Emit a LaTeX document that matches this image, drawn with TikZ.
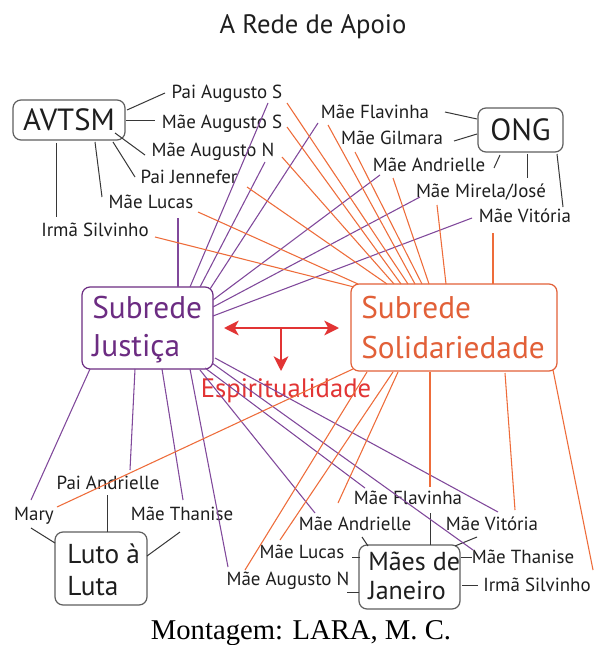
\documentclass[tikz,border=0pt]{standalone}
\usepackage{fontspec}
\setmainfont{PT Sans}
\newfontfamily\seriffam{Liberation Serif}
\usetikzlibrary{arrows.meta}
\definecolor{justxt}{RGB}{108,44,130}
\definecolor{jusline}{RGB}{128,72,155}
\definecolor{soltxt}{RGB}{226,96,56}
\definecolor{solline}{RGB}{238,108,58}
\definecolor{espred}{RGB}{226,52,52}
\definecolor{txt}{RGB}{30,30,30}
\definecolor{boxline}{RGB}{95,95,95}
\definecolor{conline}{RGB}{55,55,55}
\begin{document}
\begin{tikzpicture}[x=0.75pt,y=-0.75pt,
  lbl/.style={font=\fontsize{14.2}{16}\selectfont, text=txt, inner sep=0pt, anchor=base},
  boxshape/.style={draw=boxline, line width=0.9pt, rounded corners=6pt, inner sep=0pt},
  bigtxt/.style={inner sep=0pt, anchor=base west},
  gl/.style={draw=conline, line width=0.75pt},
  pl/.style={draw=jusline, line width=0.8pt},
  ol/.style={draw=solline, line width=0.8pt},
  redarr/.style={draw=espred, line width=1.6pt},
  redtip/.tip={Stealth[length=11pt,width=11pt,inset=3pt]}]
\useasboundingbox (0,0) rectangle (598,645);
\fill[white] (0,0) rectangle (598,645);

% title and credit
\node[inner sep=0pt, anchor=base, text=txt, font=\fontsize{20}{23}\selectfont] (title) at (313,34) {A Rede de Apoio};
\node[inner sep=0pt, anchor=base, text=black, font=\seriffam\fontsize{21.5}{24}\selectfont] (credit) at (301,639) {Montagem: LARA, M. C.};

% boxes
\node[boxshape, minimum width=84pt, minimum height=30pt, font=\fontsize{23}{26}\selectfont, text=txt] (avtsm) at (69,120) {AVTSM};
\node[boxshape, minimum width=63.75pt, minimum height=33pt, font=\fontsize{23}{26}\selectfont, text=txt] (ong) at (520.5,130) {ONG};
\node[boxshape, draw=justxt, minimum width=98.25pt, minimum height=61.5pt] (jus) at (147.5,328) {};
\node[bigtxt, text=justxt, font=\fontsize{23.5}{26}\selectfont] (jus1) at (92,318) {Subrede};
\node[bigtxt, text=justxt, font=\fontsize{23.5}{26}\selectfont] (jus2) at (92,356) {Justiça};
\node[boxshape, draw=soltxt, minimum width=154.5pt, minimum height=65.25pt] (sol) at (454,327.5) {};
\node[bigtxt, text=soltxt, font=\fontsize{23.5}{26}\selectfont] (sol1) at (361,318) {Subrede};
\node[bigtxt, text=soltxt, font=\fontsize{23.5}{26}\selectfont] (sol2) at (361,358) {Solidariedade};
\node[boxshape, minimum width=69pt, minimum height=54.75pt] (luto) at (101,568.5) {};
\node[bigtxt, text=txt, font=\fontsize{20.5}{23}\selectfont] (luto1) at (67,563) {Luto à};
\node[bigtxt, text=txt, font=\fontsize{20.5}{23}\selectfont] (luto2) at (67,595) {Luta};
\node[boxshape, minimum width=75.75pt, minimum height=48pt] (maes) at (409.5,577) {};
\node[bigtxt, text=txt, font=\fontsize{19.5}{22}\selectfont] (maes1) at (368,570) {Mães de};
\node[bigtxt, text=txt, font=\fontsize{19.5}{22}\selectfont] (maes2) at (368,599) {Janeiro};

% red arrows and Espiritualidade
\coordinate (al) at (224,328);
\coordinate (ar) at (339,328);
\coordinate (am) at (281,328);
\coordinate (ad) at (281,371);
\draw[redarr, redtip-redtip] (al) -- (ar);
\draw[redarr, -redtip] (am) -- (ad);
\node[inner sep=0pt, anchor=base, text=espred, font=\fontsize{20}{23}\selectfont] (esp) at (286,397) {Espiritualidade};

% labels near AVTSM
\node[lbl] (pas) at (227,99) {Pai Augusto S};
\node[lbl] (mas) at (222,129) {Mãe Augusto S};
\node[lbl] (man) at (213,157) {Mãe Augusto N};
\node[lbl] (pj) at (189,184) {Pai Jennefer};
\node[lbl] (ml) at (151,209) {Mãe Lucas};
\node[lbl] (isv) at (95,236) {Irmã Silvinho};
% labels near ONG
\node[lbl] (mf) at (375,119) {Mãe Flavinha};
\node[lbl] (mg) at (392,145) {Mãe Gilmara};
\node[lbl] (ma) at (429,172) {Mãe Andrielle};
\node[lbl] (mm) at (481,198) {Mãe Mirela/José};
\node[lbl] (mv) at (525,223) {Mãe Vitória};
% labels near Luto
\node[lbl] (mary) at (34,520) {Mary};
\node[lbl] (pa) at (108,489) {Pai Andrielle};
\node[lbl] (mtl) at (182,520) {Mãe Thanise};
% labels near Maes
\node[lbl] (mfj) at (408,504) {Mãe Flavinha};
\node[lbl] (maj) at (355,530) {Mãe Andrielle};
\node[lbl] (mvj) at (492,530) {Mãe Vitória};
\node[lbl] (mlj) at (302,558) {Mãe Lucas};
\node[lbl] (mtj) at (523,563) {Mãe Thanise};
\node[lbl] (manj) at (288,585) {Mãe Augusto N};
\node[lbl] (isj) at (537,591) {Irmã Silvinho};

% gray connectors AVTSM
\draw[gl] ([shift={(58,-10)}]avtsm.center) -- ([shift={(-62,-6)}]pas.base);
\draw[gl] ([shift={(57,1)}]avtsm.center) -- ([shift={(-67,-8)}]mas.base);
\draw[gl] ([shift={(46,13)}]avtsm.center) -- ([shift={(-68,-2)}]man.base);
\draw[gl] ([shift={(44,22)}]avtsm.center) -- ([shift={(-54,-7)}]pj.base);
\draw[gl] ([shift={(26,22)}]avtsm.center) -- ([shift={(-49,-12)}]ml.base);
\draw[gl] ([shift={(-13,23)}]avtsm.center) -- ([shift={(-39,-19)}]isv.base);
% gray connectors ONG
\draw[gl] ([shift={(-43.5,-11)}]ong.center) -- ([shift={(70,-7)}]mf.base);
\draw[gl] ([shift={(-43.5,4)}]ong.center) -- ([shift={(62,-4)}]mg.base);
\draw[gl] ([shift={(-20.5,25)}]ong.center) -- ([shift={(65,-4)}]ma.base);
\draw[gl] ([shift={(6.5,24)}]ong.center) -- ([shift={(46,-20)}]mm.base);
\draw[gl] ([shift={(36.5,24)}]ong.center) -- ([shift={(38,-16)}]mv.base);
% gray connectors Luto
\draw[gl] ([shift={(-46,-25.5)}]luto.center) -- ([shift={(-3,8)}]mary.base);
\draw[gl] ([shift={(6,-36.5)}]luto.center) -- ([shift={(-1,6)}]pa.base);
\draw[gl] ([shift={(46,-12.5)}]luto.center) -- ([shift={(-2,12)}]mtl.base);
% gray connectors Maes
\draw[gl] ([shift={(20.5,-32)}]maes.center) -- ([shift={(22,9)}]mfj.base);
\draw[gl] ([shift={(-41.5,-31)}]maes.center) -- ([shift={(7,7)}]maj.base);
\draw[gl] ([shift={(45.5,-31)}]maes.center) -- ([shift={(-15,7)}]mvj.base);
\draw[gl] ([shift={(-49.5,-20)}]maes.center) -- ([shift={(50,-1)}]mlj.base);
\draw[gl] ([shift={(51.5,-20)}]maes.center) -- ([shift={(-51,-6)}]mtj.base);
\draw[gl] ([shift={(-50.5,15)}]maes.center) -- ([shift={(59,7)}]manj.base);
\draw[gl] ([shift={(52.5,8)}]maes.center) -- ([shift={(-59,-6)}]isj.base);

% purple lines from Subrede Justica
\draw[pl] ([shift={(30.5,-41)}]jus.center) -- ([shift={(27,9)}]ml.base);
\draw[pl] ([shift={(42.5,-41)}]jus.center) -- ([shift={(41,4)}]pas.base);
\draw[pl] ([shift={(52.5,-41)}]jus.center) -- ([shift={(52,5)}]man.base);
\draw[pl] ([shift={(62.5,-39)}]jus.center) -- ([shift={(-57,4)}]mf.base);
\draw[pl] ([shift={(65.5,-28)}]jus.center) -- ([shift={(-49,3)}]ma.base);
\draw[pl] ([shift={(65.5,-21)}]jus.center) -- ([shift={(-61,-1)}]mm.base);
\draw[pl] ([shift={(65.5,-12)}]jus.center) -- ([shift={(-53,-5)}]mv.base);
\draw[pl] ([shift={(-57.5,41)}]jus.center) -- ([shift={(-3,-20)}]mary.base);
\draw[pl] ([shift={(-12.5,41)}]jus.center) -- ([shift={(22,-19)}]pa.base);
\draw[pl] ([shift={(14.5,41)}]jus.center) -- ([shift={(1,-20)}]mtl.base);
\draw[pl] ([shift={(42.5,41)}]jus.center) -- ([shift={(-60,-18)}]manj.base);
\draw[pl] ([shift={(52.5,42)}]jus.center) -- ([shift={(-40,-17)}]maj.base);
\draw[pl] ([shift={(57.5,40)}]jus.center) -- ([shift={(-43,-16)}]mfj.base);
\draw[pl] ([shift={(64.5,35)}]jus.center) -- ([shift={(-50,-13)}]mtj.base);
\draw[pl] ([shift={(67.5,30)}]jus.center) -- ([shift={(6,-18)}]mvj.base);

% orange lines from Subrede Solidariedade
\draw[ol] ([shift={(-46,-43.5)}]sol.center) -- ([shift={(60,4)}]pas.base);
\draw[ol] ([shift={(-53,-43.5)}]sol.center) -- ([shift={(65,-2)}]mas.base);
\draw[ol] ([shift={(-60,-43.5)}]sol.center) -- ([shift={(69,0)}]man.base);
\draw[ol] ([shift={(-67,-43.5)}]sol.center) -- ([shift={(58,3)}]pj.base);
\draw[ol] ([shift={(-96,-43.5)}]sol.center) -- ([shift={(47,3)}]ml.base);
\draw[ol] ([shift={(-100,-40.5)}]sol.center) -- ([shift={(60,1)}]isv.base);
\draw[ol] ([shift={(-39,-43.5)}]sol.center) -- ([shift={(-47,6)}]mf.base);
\draw[ol] ([shift={(-32,-43.5)}]sol.center) -- ([shift={(-37,7)}]mg.base);
\draw[ol] ([shift={(-25,-43.5)}]sol.center) -- ([shift={(-36,6)}]ma.base);
\draw[ol] ([shift={(-8,-43.5)}]sol.center) -- ([shift={(-44,7)}]mm.base);
\draw[ol] ([shift={(39,-43.5)}]sol.center) -- ([shift={(-32,10)}]mv.base);
\draw[ol] ([shift={(-101,41.5)}]sol.center) -- ([shift={(23,-13)}]mary.base);
\draw[ol] ([shift={(-87,44.5)}]sol.center) -- ([shift={(-43,-15)}]manj.base);
\draw[ol] ([shift={(-61,44.5)}]sol.center) -- ([shift={(-22,-18)}]mlj.base);
\draw[ol] ([shift={(-56,44.5)}]sol.center) -- ([shift={(-17,-27)}]maj.base);
\draw[ol] ([shift={(-24,44.5)}]sol.center) -- ([shift={(22,-17)}]mfj.base);
\draw[ol] ([shift={(51,45.5)}]sol.center) -- ([shift={(23,-20)}]mvj.base);
\draw[ol] ([shift={(99,42.5)}]sol.center) -- ([shift={(56,-21)}]isj.base);
\end{tikzpicture}
\end{document}
